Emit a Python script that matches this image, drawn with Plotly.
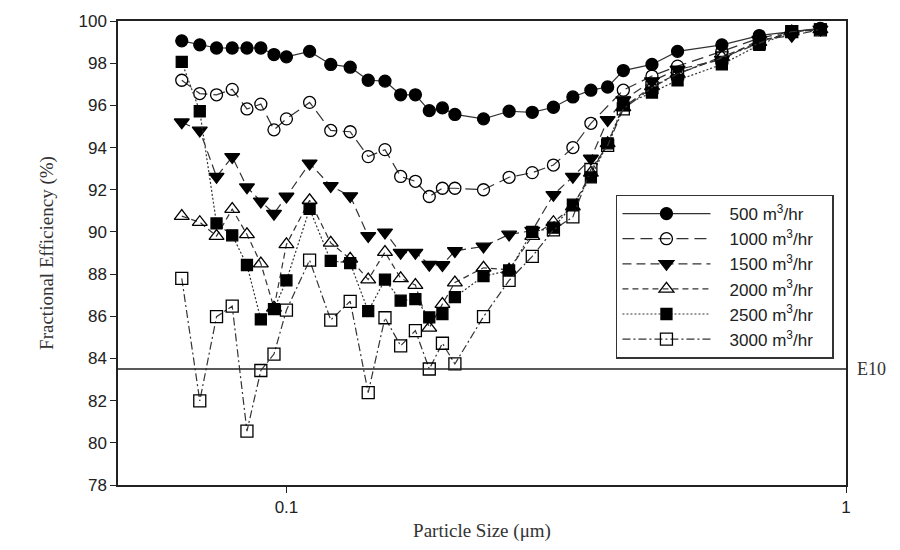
import plotly.graph_objects as go

sizes = [0.065, 0.07, 0.075, 0.08, 0.085, 0.09, 0.095, 0.1, 0.11, 0.12, 0.13, 0.14,
         0.15, 0.16, 0.17, 0.18, 0.19, 0.2, 0.225, 0.25, 0.275, 0.3, 0.325, 0.35,
         0.375, 0.4, 0.45, 0.5, 0.6, 0.7, 0.8, 0.9]

eff_500 = [99.06, 98.87, 98.72, 98.72, 98.72, 98.72, 98.41, 98.30, 98.56, 97.94, 97.81, 97.19,
           97.15, 96.50, 96.50, 95.75, 95.88, 95.57, 95.36, 95.72, 95.67, 95.91, 96.40, 96.72,
           96.87, 97.65, 97.94, 98.56, 98.87, 99.31, 99.50, 99.65]
eff_1000 = [97.19, 96.56, 96.50, 96.76, 95.83, 96.06, 94.84, 95.36, 96.14, 94.81, 94.75, 93.57,
            93.90, 92.63, 92.40, 91.68, 92.07, 92.07, 92.00, 92.59, 92.81, 93.17, 94.00, 95.15,
            None, 96.72, 97.39, 97.86, 98.56, 99.19, 99.50, 99.62]
eff_1500 = [95.20, 94.81, 92.62, 93.56, 92.12, 91.45, 90.87, 91.68, 93.25, 92.18, 91.70, 89.81,
            89.98, 89.02, 89.02, 88.45, 88.43, 89.10, 89.31, 89.88, 90.06, 91.76, 92.62, 93.48,
            95.31, 96.25, 97.15, 97.70, 98.17, 99.11, 99.30, 99.60]
eff_2000 = [90.75, 90.46, 89.80, 91.08, 89.88, 88.50, 86.40, 89.41, 91.50, 89.48, 88.72, 87.74,
            89.04, 87.80, 87.48, 85.45, 86.58, 87.60, 88.30, 88.20, 89.80, 90.46, 91.20, 92.80,
            94.20, 95.90, 96.90, 97.50, 98.30, 99.00, 99.50, 99.60]
eff_2500 = [98.06, 95.72, 90.40, 89.84, 88.43, 85.85, 86.34, 87.70, 91.09, 88.63, 88.52, 86.24,
            87.74, 86.74, 86.81, 85.95, 86.10, 86.91, 87.90, 88.17, 90.00, 90.20, 91.29, 92.59,
            94.20, 96.00, 96.61, 97.19, 97.94, 98.87, 99.50, 99.60]
eff_3000 = [87.80, 81.99, 85.98, 86.48, 80.55, 83.43, 84.21, 86.29, 88.66, 85.82, 86.71, 82.38,
            85.93, 84.60, 85.32, 83.50, 84.72, 83.74, 85.98, 87.70, 88.84, 90.10, 90.71, 92.96,
            94.10, 95.83, 96.84, 97.50, 98.25, 98.95, 99.50, 99.58]

series_names = ["500 m<sup>3</sup>/hr", "1000 m<sup>3</sup>/hr", "1500 m<sup>3</sup>/hr",
                "2000 m<sup>3</sup>/hr", "2500 m<sup>3</sup>/hr", "3000 m<sup>3</sup>/hr"]
series_vals = [eff_500, eff_1000, eff_1500, eff_2000, eff_2500, eff_3000]
symbols = ["circle", "circle-open", "triangle-down", "triangle-up-open", "square", "square-open"]
dashes = ["solid", "12px,6px", "9px,5px", "6px,4px", "2px,2px", "8px,3px,2px,3px"]
msizes = [12, 12, 13, 13, 11, 12]

E10 = 83.5
y_ticks = list(range(78, 101, 2))
x_ticks = [0.1, 1]
x_ticktext = ["0.1", "1"]

fig = go.Figure()
for name, vals, sym, dash, ms in zip(series_names, series_vals, symbols, dashes, msizes):
    fig.add_trace(go.Scatter(
        x=sizes, y=vals, name="\u00a0\u00a0\u00a0" + name + "\u00a0\u00a0\u00a0",
        mode="lines+markers", connectgaps=True,
        line=dict(color="#333333", width=1.2, dash=dash),
        marker=dict(symbol=sym, size=ms, color="black",
                    line=dict(color="black", width=1.3)),
    ))

fig.add_shape(type="line", xref="paper", x0=0, x1=1, yref="y", y0=E10, y1=E10,
              line=dict(color="#222222", width=1.3))
fig.add_annotation(xref="paper", x=1.012, yref="y", y=E10, text="E10", showarrow=False,
                   xanchor="left", yanchor="middle",
                   font=dict(family="Liberation Serif", size=18, color="#333333"))

fig.update_layout(
    width=900, height=550,
    margin=dict(l=118, r=54, t=16, b=65),
    paper_bgcolor="white", plot_bgcolor="white",
    font=dict(family="Liberation Sans", size=17, color="#222222"),
    showlegend=True,
    legend=dict(x=0.684, y=0.626, xanchor="left", yanchor="top",
                bordercolor="#333333", borderwidth=1.5, bgcolor="white",
                font=dict(family="Liberation Sans", size=17, color="#222222"),
                itemwidth=88, tracegroupgap=0),
)
fig.update_xaxes(type="log", range=[-1.30103, 0.0], tickvals=x_ticks, ticktext=x_ticktext,
                 ticks="outside", ticklen=6, tickcolor="#222", showline=True, linecolor="#222",
                 linewidth=1.5, mirror=True, showgrid=False, zeroline=False,
                 tickfont=dict(family="Liberation Sans", size=17),
                 title=dict(text="Particle Size (μm)", standoff=8,
                            font=dict(family="Liberation Serif", size=19, color="#333")))
fig.update_yaxes(range=[78, 100], tickvals=y_ticks, ticks="outside", ticklen=6, tickcolor="#222",
                 showline=True, linecolor="#222", linewidth=1.5, mirror=True, showgrid=False,
                 zeroline=False, tickfont=dict(family="Liberation Sans", size=17),
                 title=dict(text="Fractional Efficiency (%)", standoff=20,
                            font=dict(family="Liberation Serif", size=19, color="#333")))

fig.write_html("out.html")
